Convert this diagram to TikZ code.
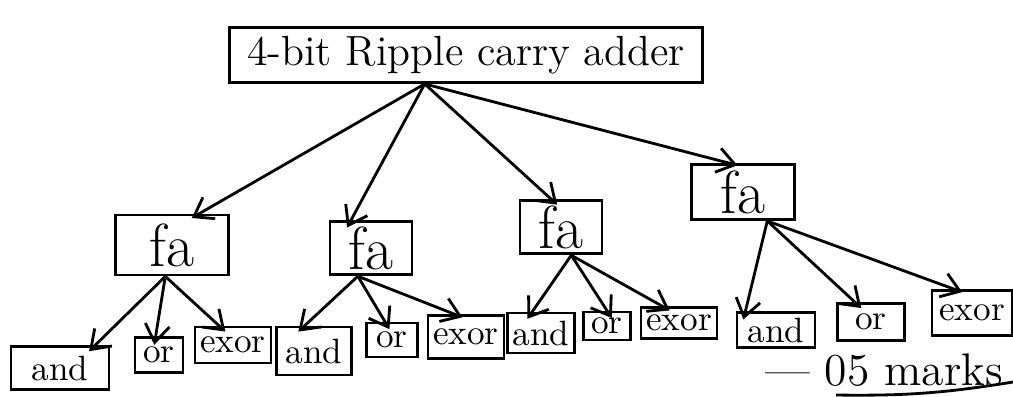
\documentclass[tikz,border=0pt]{standalone}
\usetikzlibrary{arrows.meta}
\begin{document}
\begin{tikzpicture}[x=0.01cm, y=-0.01cm,
    main/.style = {draw, thick, inner sep=1.5pt},
    fa/.style = {main, font=\LARGE},
    leaf/.style = {main, font=\normalsize},
    arr/.style = {thick, shorten >=-2.5pt, -{Straight Barb[length=5pt, width=7pt]}}]
  \useasboundingbox (0,0) rectangle (1013,396);

  \node[main] (adder) [minimum width=47.3mm, minimum height=5.5mm, font=\large] at (466,55) {4-bit Ripple carry adder};

  \node[fa] (fa1) [minimum width=11.3mm, minimum height=6mm] at (172,245) {fa};
  \node[fa] (fa2) [minimum width=8.2mm, minimum height=4.7mm] at (371,248) {fa};
  \node[fa] (fa3) [minimum width=8.2mm, minimum height=4.7mm] at (561,227) {fa};
  \node[fa] (fa4) [minimum width=10.3mm, minimum height=5.5mm] at (743,192) {fa};

  \node[leaf] (and1) [minimum width=9.8mm, minimum height=4.3mm] at (60,368) {and};
  \node[leaf] (or1) [minimum width=4.8mm, minimum height=3.5mm] at (159,355) {or};
  \node[leaf] (exor1) [minimum width=6.7mm, minimum height=3.6mm] at (233,345) {exor};

  \node[leaf] (and2) [minimum width=7.5mm, minimum height=4.8mm] at (314,351) {and};
  \node[leaf] (or2) [minimum width=5.1mm, minimum height=3.4mm] at (392,340) {or};
  \node[leaf] (exor2) [minimum width=7.2mm, minimum height=4.3mm] at (466,337) {exor};

  \node[leaf] (and3) [minimum width=5.8mm, minimum height=4mm] at (541,333) {and};
  \node[leaf] (or3) [minimum width=4.7mm, minimum height=2.8mm] at (607,326) {or};
  \node[leaf] (exor3) [minimum width=6.5mm, minimum height=3.1mm] at (679,323) {exor};

  \node[leaf] (and4) [minimum width=7.8mm, minimum height=3.4mm] at (776,330) {and};
  \node[leaf] (or4) [minimum width=6.7mm, minimum height=3.7mm] at (871,322) {or};
  \node[leaf] (exor4) [minimum width=8mm, minimum height=4.5mm] at (972,313) {exor};

  \node (marks) [font=\fontsize{13}{15}\selectfont] at (884,370) {--- 05 marks};
  \coordinate (ul) at (836,395);
  \coordinate (ur) at (1013,382);
  \draw[thick] (ul) to[bend right=5] (ur);

  \draw[arr] (adder.215) -- (fa1.49);
  \draw[arr] (adder.215) -- (fa2.125);
  \draw[arr] (adder.215) -- (fa3.110);
  \draw[arr] (adder.215) -- (fa4.116);

  \draw[arr] (fa1.258) -- (and1.33);
  \draw[arr] (fa1.258) -- (or1.100);
  \draw[arr] (fa1.258) -- (exor1.126);

  \draw[arr] (fa2.245) -- (and2.110);
  \draw[arr] (fa2.245) -- (or2.111);
  \draw[arr] (fa2.245) -- (exor2.117);

  \draw[arr] (fa3.290) -- (and3.112);
  \draw[arr] (fa3.290) -- (or3.north);
  \draw[arr] (fa3.290) -- (exor3.135);

  \draw[arr] (fa4.310) -- (and4.148);
  \draw[arr] (fa4.310) -- (or4.129);
  \draw[arr] (fa4.310) -- (exor4.127);
\end{tikzpicture}
\end{document}
